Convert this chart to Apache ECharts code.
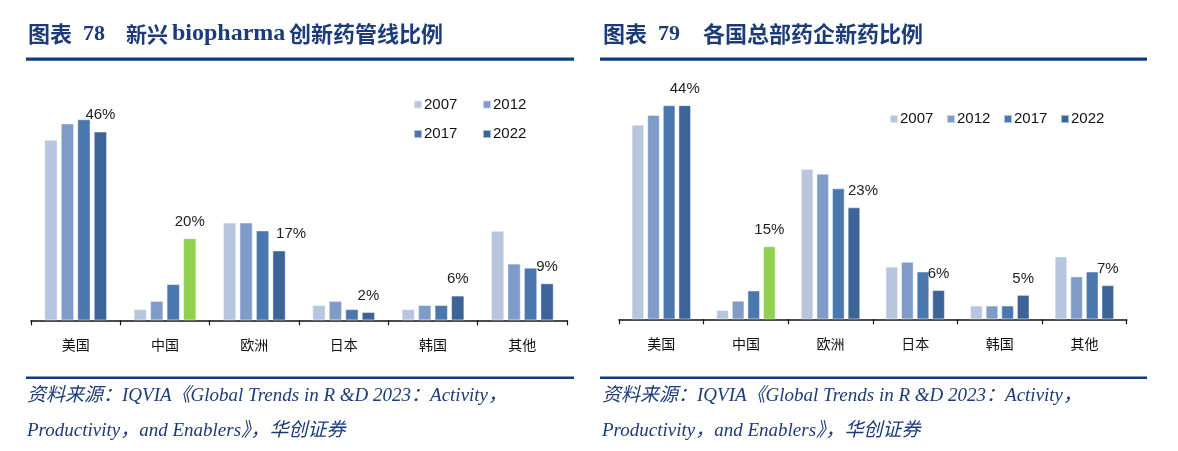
<!DOCTYPE html>
<html>
<head>
<meta charset="utf-8">
<script src="https://cdn.jsdelivr.net/npm/echarts@6/dist/echarts.min.js"></script>
<style>
html,body{margin:0;padding:0;background:#fff;}
#main{width:1178px;height:451px;}
</style>
</head>
<body>
<div id="main"></div>
<script>
// ---- data ----
var categories = ['美国', '中国', '欧洲', '日本', '韩国', '其他'];
var years = ['2007', '2012', '2017', '2022'];

// 图表78 新兴 biopharma 创新药管线比例 (%)
var left2007 = [44, 2.7, 23.8, 3.7, 2.7, 21.8];
var left2012 = [48, 4.7, 23.8, 4.7, 3.7, 13.8];
var left2017 = [49, 8.8, 21.9, 2.7, 3.7, 12.8];
var left2022 = [46, 20, 17, 2, 6, 9];

// 图表79 各国总部药企新药比例 (%)
var right2007 = [40, 1.9, 30.9, 10.8, 2.8, 12.9];
var right2012 = [42, 3.8, 29.9, 11.8, 2.8, 8.8];
var right2017 = [44, 5.9, 26.9, 9.8, 2.8, 9.8];
var right2022 = [44, 15, 23, 6, 5, 7];

var sourceLine1 = '资料来源：IQVIA《Global Trends in R &D 2023：Activity，';
var sourceLine2 = 'Productivity，and Enablers》，华创证券';

// ---- styles ----
var colors = ['#B7C5DF', '#7F9CC8', '#4A77AE', '#3D6496'];
var green = '#92D050';
var navy = '#1B3C78';
var ruleColor = '#0C3D80';
var numFont = '"Liberation Sans", Arial, sans-serif';
var cjkFont = '"Noto Sans CJK SC", "Liberation Sans", sans-serif';
var cjkBold = 'bold 22px "Noto Sans CJK SC", serif';
var latBold = 'bold 22px "Liberation Serif", serif';
var srcFont = 'italic 19px "Liberation Serif", "Noto Sans CJK SC", serif';

function buildSeries(arrs, xi, europeOffset) {
  return arrs.map(function (arr, i) {
    var data = arr.map(function (v, j) {
      var d = { value: v };
      if (i === 3 && j === 1) d.itemStyle = { color: green };
      if (i === 3 && j === 2) d.label = { offset: [europeOffset, 0] };
      return d;
    });
    var s = {
      name: years[i],
      type: 'bar',
      xAxisIndex: xi,
      yAxisIndex: xi,
      data: data,
      barGap: '26%',
      barCategoryGap: '30%',
      itemStyle: { color: colors[i], borderColor: 'rgba(255,255,255,0.55)', borderWidth: 0.8 },
      emphasis: { disabled: true },
      animation: false
    };
    if (i === 3) {
      s.label = {
        show: true,
        position: 'top',
        distance: 9,
        formatter: '{c}%',
        fontFamily: numFont,
        fontSize: 15,
        color: '#222'
      };
    }
    return s;
  });
}

function xAxis(gi) {
  return {
    type: 'category',
    gridIndex: gi,
    data: categories,
    axisLine: { lineStyle: { color: '#111', width: 1.5 } },
    axisTick: { show: true, length: 5, lineStyle: { color: '#111', width: 1.2 } },
    axisLabel: { margin: 17, fontFamily: cjkFont, fontSize: 14, color: '#111' }
  };
}

function yAxis(gi, max) {
  return { type: 'value', gridIndex: gi, min: 0, max: max, show: false, splitLine: { show: false } };
}

function legendItem(name, x, cy) {
  return {
    data: [name], left: x, top: cy - 8, padding: 0,
    icon: 'rect', itemWidth: 8, itemHeight: 8, selectedMode: false,
    textStyle: { fontFamily: numFont, fontSize: 15, color: '#111', lineHeight: 16, padding: [0, 0, 0, -3] }
  };
}

function txt(text, x, y, font) {
  return { type: 'text', x: x, y: y, style: { text: text, font: font, fill: navy, align: 'left', verticalAlign: 'middle' } };
}

var chart = echarts.init(document.getElementById('main'));
chart.setOption({
  backgroundColor: '#fff',
  animation: false,
  grid: [
    { left: 31, right: 611, top: 94.8, bottom: 130.7 },
    { left: 619, right: 51.3, top: 76.1, bottom: 131.7 }
  ],
  xAxis: [xAxis(0), xAxis(1)],
  yAxis: [yAxis(0, 55), yAxis(1, 50)],
  legend: [
    legendItem('2007', 413, 104.5),
    legendItem('2012', 482, 104.5),
    legendItem('2017', 413, 134),
    legendItem('2022', 482, 134),
    legendItem('2007', 889, 119),
    legendItem('2012', 946, 119),
    legendItem('2017', 1003, 119),
    legendItem('2022', 1060, 119)
  ],
  series: buildSeries([left2007, left2012, left2017, left2022], 0, 12)
    .concat(buildSeries([right2007, right2012, right2017, right2022], 1, 9)),
  graphic: [
    txt('图表', 28, 34, cjkBold),
    txt('78', 83, 34, latBold),
    txt('新兴', 126, 34, 'bold 21px "Noto Sans CJK SC", serif'),
    txt('biopharma', 172, 34, 'bold 24px "Liberation Serif", serif'),
    txt('创新药管线比例', 289, 34, cjkBold),
    txt('图表', 603, 34, cjkBold),
    txt('79', 658, 34, latBold),
    txt('各国总部药企新药比例', 703, 34, cjkBold),
    { type: 'rect', shape: { x: 26, y: 57.5, width: 548, height: 3.2 }, style: { fill: ruleColor } },
    { type: 'rect', shape: { x: 600, y: 57.5, width: 547, height: 3.2 }, style: { fill: ruleColor } },
    { type: 'rect', shape: { x: 26, y: 376.5, width: 548, height: 2.6 }, style: { fill: ruleColor } },
    { type: 'rect', shape: { x: 600, y: 376.5, width: 547, height: 2.6 }, style: { fill: ruleColor } },
    txt(sourceLine1, 27, 396, srcFont),
    txt(sourceLine2, 27, 431, srcFont),
    txt(sourceLine1, 602, 396, srcFont),
    txt(sourceLine2, 602, 431, srcFont)
  ]
});
</script>
</body>
</html>
